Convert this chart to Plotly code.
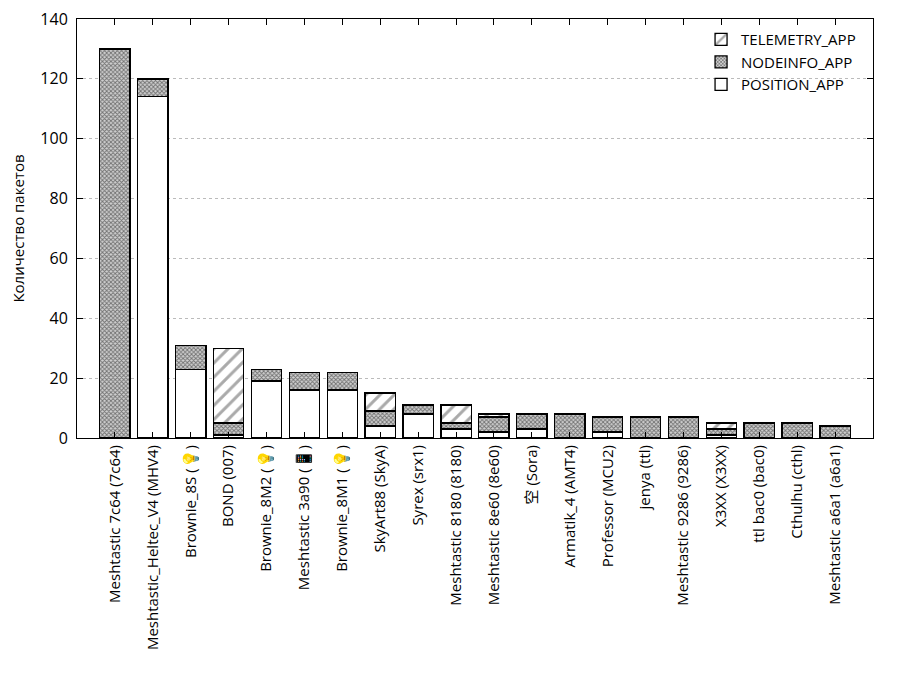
"""
Количество пакетов по узлам (стек по типу пакета)
"""

import plotly.graph_objects as go

# узлы
nodes = [
    'Meshtastic 7c64 (7c64)',
    'Meshtastic_Heltec_V4 (MHV4)',
    'Brownie_8S (💡)',
    'BOND (007)',
    'Brownie_8M2 (💡)',
    'Meshtastic 3a90 (📱)',
    'Brownie_8M1 (💡)',
    'SkyArt88 (SkyA)',
    'Syrex (srx1)',
    'Meshtastic 8180 (8180)',
    'Meshtastic 8e60 (8e60)',
    '空 (Sora)',
    'Armatik_4 (AMT4)',
    'Professor (MCU2)',
    'jenya (ttl)',
    'Meshtastic 9286 (9286)',
    'X3XX (X3XX)',
    'ttl bac0 (bac0)',
    'Cthulhu (cthl)',
    'Meshtastic a6a1 (a6a1)',
]

# значения по типам пакетов
position_app = [0, 114, 23, 1, 19, 16, 16, 4, 8, 3, 2, 3, 0, 2, 0, 0, 1, 0, 0, 0]
nodeinfo_app = [130, 6, 8, 4, 4, 6, 6, 5, 3, 2, 5, 5, 8, 5, 7, 7, 2, 5, 5, 4]
telemetry_app = [0, 0, 0, 25, 0, 0, 0, 6, 0, 6, 1, 0, 0, 0, 0, 0, 2, 0, 0, 0]

font_family = 'Open Sans, DejaVu Sans, Noto Sans CJK SC, sans-serif'
x_idx = list(range(len(nodes)))

fig = go.Figure()

fig.add_trace(go.Bar(
    x=x_idx, y=position_app, name='POSITION_APP',
    width=0.8,
    marker=dict(color='white', line=dict(color='black', width=1.3)),
))
fig.add_trace(go.Bar(
    x=x_idx, y=nodeinfo_app, name='NODEINFO_APP',
    width=0.8,
    marker=dict(
        color='white', line=dict(color='black', width=1.3),
        pattern=dict(shape='x', fgcolor='#111111', bgcolor='#d0d0d0',
                     size=3, solidity=0.5),
    ),
))
fig.add_trace(go.Bar(
    x=x_idx, y=telemetry_app, name='TELEMETRY_APP',
    width=0.8,
    marker=dict(
        color='white', line=dict(color='black', width=1.3),
        pattern=dict(shape='/', fgcolor='#555555', bgcolor='white',
                     size=10, solidity=0.3),
    ),
))

fig.update_xaxes(
    range=[-1, 20], automargin=False,
    tickmode='array', tickvals=x_idx, ticktext=nodes,
    tickangle=-90,
    ticks='inside', ticklen=6, tickcolor='black',
    showline=True, linecolor='black', linewidth=1, mirror='ticks',
    showgrid=False, zeroline=False,
    tickfont=dict(family=font_family, size=15, color='black'),
)
fig.update_yaxes(
    range=[0, 140], dtick=20, automargin=False,
    ticklabeloverflow='allow', ticklabelstandoff=5,
    title=dict(text='Количество пакетов',
               font=dict(family=font_family, size=15, color='black'),
               standoff=13),
    ticks='inside', ticklen=6, tickcolor='black',
    showline=True, linecolor='black', linewidth=1, mirror='ticks',
    showgrid=True, gridcolor='#bbbbbb', griddash='dot', gridwidth=1,
    zeroline=False,
    tickfont=dict(family=font_family, size=16, color='black'),
)

fig.update_layout(
    barmode='stack',
    width=900, height=700,
    margin=dict(l=69, r=35, t=11, b=270),
    plot_bgcolor='white', paper_bgcolor='white',
    font=dict(family=font_family, size=15, color='black'),
    showlegend=True,
    legend=dict(
        traceorder='reversed',
        x=0.985, y=0.99, xanchor='right', yanchor='top',
        bgcolor='rgba(0,0,0,0)',
        font=dict(family=font_family, size=15, color='black'),
        tracegroupgap=0,
    ),
)

fig.write_html("out.html")
